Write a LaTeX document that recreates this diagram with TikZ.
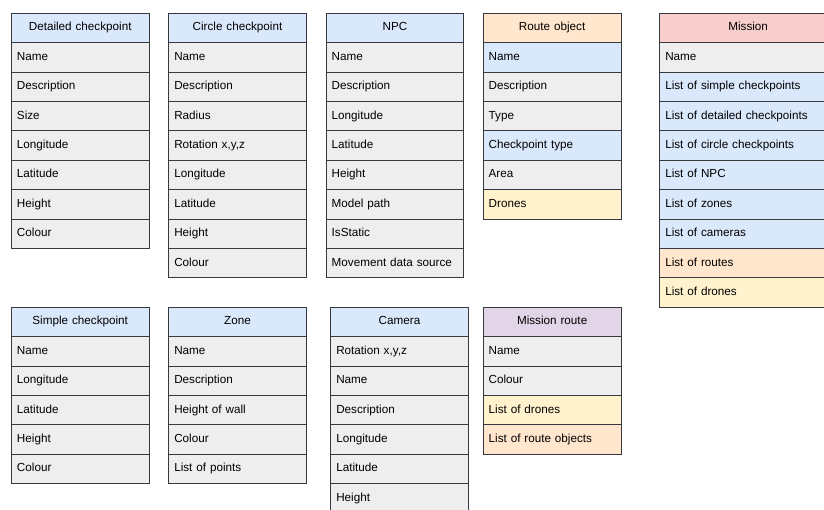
\documentclass[tikz,border=0pt]{standalone}
\usepackage{fontspec}
\setmainfont{Liberation Sans}
\definecolor{hblue}{HTML}{DAE8FC}
\definecolor{cgray}{HTML}{EEEEEE}
\definecolor{corange}{HTML}{FFE6CC}
\definecolor{cyellow}{HTML}{FFF2CC}
\definecolor{cred}{HTML}{F8CECC}
\definecolor{cpurple}{HTML}{E1D5E7}
\definecolor{bordc}{HTML}{36393D}
\tikzset{
  cellbase/.style={draw=bordc, line width=0.9pt, anchor=north west, minimum height=29.4pt,
    inner xsep=5.5pt, inner ysep=0pt, text height=8.6pt, text depth=2.4pt,
    font=\fontsize{11.7}{13}\selectfont},
  headcell/.style={cellbase, text width=#1, align=center},
  itemcell/.style={cellbase, text width=#1, align=left}
}
\newcommand\mytable[7]{%
  \node[headcell=#4, fill=#5] (#1-0) at (#2,#3) {#6};
  \foreach \txt/\col [count=\i] in {#7} {
    \pgfmathsetmacro\yy{#3+\i*29.4}
    \node[itemcell=#4, fill=\col] (#1-\i) at (#2,\yy) {\txt};
  }%
}
\begin{document}
\begin{tikzpicture}[x=1pt,y=-1pt]
\clip (0,0) rectangle (824,509);
\fill[white] (0,0) rectangle (824,509);
\mytable{dc}{11}{12.7}{126.5pt}{hblue}{Detailed checkpoint}{Name/cgray,Description/cgray,Size/cgray,Longitude/cgray,Latitude/cgray,Height/cgray,Colour/cgray}
\mytable{cc}{168.3}{12.7}{126.5pt}{hblue}{Circle checkpoint}{Name/cgray,Description/cgray,Radius/cgray,{Rotation x,y,z}/cgray,Longitude/cgray,Latitude/cgray,Height/cgray,Colour/cgray}
\mytable{npc}{325.7}{12.7}{126.5pt}{hblue}{NPC}{Name/cgray,Description/cgray,Longitude/cgray,Latitude/cgray,Height/cgray,Model path/cgray,IsStatic/cgray,Movement data source/cgray}
\mytable{ro}{482.7}{12.7}{127pt}{corange}{Route object}{Name/hblue,Description/cgray,Type/cgray,Checkpoint type/hblue,Area/cgray,Drones/cyellow}
\mytable{ms}{659.3}{12.7}{165.8pt}{cred}{Mission}{Name/cgray,List of simple checkpoints/hblue,List of detailed checkpoints/hblue,List of circle checkpoints/hblue,List of NPC/hblue,List of zones/hblue,List of cameras/hblue,List of routes/corange,List of drones/cyellow}
\mytable{sc}{11}{306.7}{126.5pt}{hblue}{Simple checkpoint}{Name/cgray,Longitude/cgray,Latitude/cgray,Height/cgray,Colour/cgray}
\mytable{zn}{168.3}{306.7}{126.5pt}{hblue}{Zone}{Name/cgray,Description/cgray,Height of wall/cgray,Colour/cgray,List of points/cgray}
\mytable{cam}{330.3}{306.7}{126.5pt}{hblue}{Camera}{{Rotation x,y,z}/cgray,Name/cgray,Description/cgray,Longitude/cgray,Latitude/cgray,Height/cgray}
\mytable{mr}{482.7}{306.7}{127pt}{cpurple}{Mission route}{Name/cgray,Colour/cgray,List of drones/cyellow,List of route objects/corange}
\end{tikzpicture}
\end{document}
